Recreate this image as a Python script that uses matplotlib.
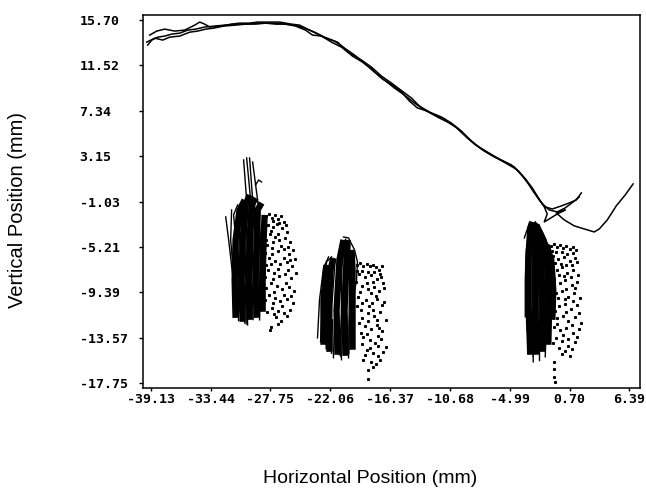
import matplotlib
matplotlib.use("Agg")
import matplotlib.pyplot as plt

# tick values / labels
x_ticks = [-39.13, -33.44, -27.75, -22.06, -16.37, -10.68, -4.99, 0.70, 6.39]
x_labels = ["-39.13", "-33.44", "-27.75", "-22.06", "-16.37", "-10.68", "-4.99", "0.70", "6.39"]
y_ticks = [15.70, 11.52, 7.34, 3.15, -1.03, -5.21, -9.39, -13.57, -17.75]
y_labels = ["15.70", "11.52", "7.34", "3.15", "-1.03", "-5.21", "-9.39", "-13.57", "-17.75"]

# upper trajectory, three overlapping traces
trace_a_x = [-39.42, -39.03, -38.47, -37.80, -37.14, -36.37, -35.61, -34.86, -34.00, -33.05, -32.10,
             -31.15, -30.20, -29.25, -28.30, -27.35, -26.40, -25.45, -24.50, -23.55, -22.60, -21.65,
             -20.70, -19.75, -18.80, -17.85, -16.90, -15.95, -15.00, -14.05, -13.10, -12.15, -11.20,
             -10.25, -9.30, -8.35, -7.40, -6.45, -5.50, -4.55, -3.79, -3.13, -2.46, -1.89, -1.23,
             -0.47, 0.29, 1.05, 1.63]
trace_a_y = [13.40, 13.86, 14.13, 14.23, 14.41, 14.50, 14.78, 14.87, 15.06, 15.15, 15.24,
             15.33, 15.33, 15.42, 15.42, 15.42, 15.33, 15.24, 14.96, 14.59, 14.13, 13.77,
             13.12, 12.48, 11.74, 10.91, 10.17, 9.44, 8.79, 8.06, 7.41, 6.95, 6.58,
             5.94, 5.11, 4.28, 3.63, 3.08, 2.62, 2.16, 1.33, 0.50, -0.42, -1.25, -1.80,
             -1.98, -1.61, -1.06, -0.60]

trace_b_x = [-39.23, -38.56, -37.80, -36.85, -35.90, -34.95, -34.47, -34.00, -33.52, -32.39, -31.44,
             -30.68, -29.73, -28.97, -28.02, -26.88, -25.74, -24.98, -24.02, -23.27, -22.51, -21.37,
             -20.23, -19.09, -18.14, -17.19, -16.24, -15.10, -14.34, -13.58, -12.63, -11.49, -10.54,
             -9.59, -8.64, -7.69, -6.74, -5.79, -4.83, -4.08, -3.41, -2.84, -2.18, -1.61, -0.94,
             -0.08, 0.68, 1.34, 1.82]
trace_b_y = [14.32, 14.69, 14.87, 14.69, 14.78, 15.24, 15.52, 15.33, 15.06, 15.15, 15.33,
             15.42, 15.42, 15.52, 15.52, 15.52, 15.33, 15.24, 14.78, 14.41, 14.04, 13.67,
             12.66, 12.02, 11.37, 10.54, 9.90, 9.07, 8.52, 7.78, 7.23, 6.77, 6.21,
             5.48, 4.56, 3.82, 3.27, 2.81, 2.35, 1.70, 0.96, 0.04, -0.88, -1.52, -1.71,
             -1.43, -1.15, -0.88, -0.23]

trace_c_x = [-39.51, -38.75, -37.99, -37.33, -36.37, -35.42, -34.67, -33.91, -33.15, -32.20, -31.06,
             -30.11, -29.16, -28.21, -27.26, -26.31, -25.36, -24.41, -23.74, -22.89, -21.94, -20.99,
             -19.94, -18.99, -18.04, -17.09, -16.14, -15.29, -14.53, -13.77, -12.82, -11.87, -10.92,
             -9.97, -9.02, -8.07, -7.12, -6.17, -5.22, -4.26, -3.51, -2.84, -2.27, -1.70, -1.42,
             -1.70, -1.23, -0.47, 0.29, -0.56, 0.20, 1.15, 2.10, 3.05, 3.53, 4.29, 5.14, 5.99, 6.75]
trace_c_y = [13.67, 14.04, 13.86, 14.13, 14.23, 14.59, 14.69, 14.87, 14.96, 15.15, 15.24,
             15.33, 15.33, 15.42, 15.33, 15.33, 15.15, 14.78, 14.32, 14.23, 13.67, 13.21,
             12.38, 11.83, 11.10, 10.27, 9.71, 9.07, 8.24, 7.60, 7.32, 6.77, 6.31,
             5.75, 4.83, 4.10, 3.54, 2.99, 2.44, 1.89, 1.06, 0.23, -0.69, -1.52, -2.17,
             -2.90, -2.63, -2.17, -1.80, -2.08, -2.72, -3.27, -3.55, -3.83, -3.55, -2.72, -1.43, -0.42, 0.60]

# lower strokes: dense cores (drawn thick) and single strands
cluster1_core = [
    ([-31.06, -31.15, -31.06, -30.68, -30.20], [-11.75, -8.25, -4.56, -1.80, -0.88]),
    ([-30.39, -30.49, -30.39, -30.11, -29.73], [-12.11, -8.25, -4.56, -1.34, -0.42]),
    ([-29.73, -29.82, -29.73, -29.54, -29.16], [-11.93, -8.25, -4.56, -1.34, -0.69]),
    ([-29.06, -29.16, -29.06, -28.97, -28.59], [-11.75, -8.25, -4.56, -1.80, -1.15]),
    ([-28.49, -28.49, -28.40, -28.30], [-11.19, -8.25, -4.56, -2.26]),
]
cluster1_thin = [
    ([-30.30, -30.01, -29.73, -29.73], [2.81, -0.88, -4.56, -10.09]),
    ([-29.73, -29.44, -29.16, -29.25], [2.99, -0.88, -4.56, -10.09]),
    ([-29.44, -28.97, -28.68, -28.78], [2.62, -0.88, -4.56, -10.09]),
    ([-30.01, -29.63, -29.44], [2.99, -0.88, -4.56]),
    ([-29.16, -28.87, -28.59], [0.50, 0.96, 0.78]),
    ([-32.00, -31.72, -31.34, -30.87, -30.49], [-2.44, -4.56, -7.79, -10.09, -11.75]),
    ([-31.44, -31.53, -31.25, -30.87], [-1.80, -4.56, -7.79, -11.01]),
    ([-30.87, -31.25, -30.96, -30.68, -30.20], [-1.34, -2.26, -5.48, -9.17, -12.21]),
    ([-28.78, -28.59, -28.21], [-11.93, -5.48, -2.72]),
    ([-29.92, -30.01], [-12.39, -9.17]),
    ([-30.78, -30.82, -30.70, -30.40], [-12.00, -8.00, -4.00, -1.20]),
    ([-30.05, -30.15, -30.05, -29.90], [-12.30, -8.50, -4.00, -0.80]),
    ([-29.40, -29.50, -29.40, -29.20], [-11.90, -8.00, -3.50, -0.90]),
    ([-28.80, -28.85, -28.75], [-11.60, -7.00, -2.00]),
]
cluster2_core = [
    ([-22.13, -22.22, -22.03, -21.75], [-14.88, -11.01, -7.33, -6.22]),
    ([-21.37, -21.46, -21.18, -20.80], [-15.15, -11.01, -6.40, -4.56]),
    ([-20.61, -20.70, -20.51, -20.42], [-15.25, -11.01, -6.40, -4.56]),
    ([-19.94, -19.94, -19.94, -20.04], [-14.69, -11.01, -7.33, -5.48]),
    ([-22.70, -22.70, -22.41], [-14.23, -10.09, -6.86]),
]
cluster2_thin = [
    ([-23.27, -23.08, -22.70, -22.22], [-13.59, -10.09, -7.14, -6.13]),
    ([-22.98, -22.79, -22.41, -21.94], [-13.95, -10.09, -6.59, -6.13]),
    ([-21.75, -21.84], [-15.43, -11.93]),
    ([-20.99, -21.08], [-15.61, -12.85]),
    ([-20.32, -20.23, -19.56, -19.47, -19.75, -20.32, -20.80], [-15.43, -11.93, -8.25, -6.59, -5.48, -4.38, -4.29]),
    ([-21.18, -20.89, -20.61], [-15.15, -10.09, -5.48]),
    ([-21.95, -21.90, -21.60], [-15.00, -10.50, -6.50]),
    ([-21.05, -21.00, -20.95, -20.60], [-15.30, -11.00, -7.00, -4.50]),
    ([-20.30, -20.25, -20.20], [-15.00, -10.00, -5.00]),
    ([-22.45, -22.40, -22.10], [-14.60, -10.50, -6.60]),
]
cluster3_core = [
    ([-3.03, -3.22, -3.22, -3.03, -2.84], [-15.15, -10.09, -6.40, -3.46, -2.90]),
    ([-2.46, -2.56, -2.56, -2.56, -2.75], [-15.15, -10.09, -6.40, -4.11, -3.00]),
    ([-1.89, -1.89, -1.99, -2.18, -2.65], [-14.88, -10.09, -6.40, -4.38, -3.09]),
    ([-1.32, -1.23, -1.42, -1.80, -2.46], [-14.23, -10.09, -6.40, -4.56, -3.18]),
    ([-0.94, -0.85, -1.04, -1.51], [-11.93, -9.17, -6.40, -5.02]),
]
cluster3_thin = [
    ([-3.51, -3.51, -3.41, -3.22], [-11.65, -8.25, -5.48, -4.29]),
    ([-3.60, -3.41, -3.13], [-4.38, -3.83, -3.09]),
    ([-2.75, -2.84], [-15.80, -11.93]),
    ([-2.18, -2.18], [-15.61, -11.93]),
    ([-1.61, -1.51], [-15.33, -11.93]),
    ([-0.66, -0.75, -1.13, -1.89, -2.56], [-10.09, -7.33, -5.48, -3.83, -2.90]),
    ([-3.32, -3.22], [-12.85, -9.17]),
    ([-2.75, -2.88, -2.88, -2.70], [-15.30, -10.00, -5.50, -3.00]),
    ([-2.18, -2.22, -2.25, -2.40], [-15.00, -10.00, -5.50, -3.30]),
    ([-1.60, -1.56, -1.70, -2.10], [-14.60, -10.00, -5.50, -3.60]),
]

# dotted clouds to the right of each stroke group
dots1_x = [-28.2, -27.9, -27.6, -27.3, -27.0, -26.7, -26.5, -28.0, -27.5, -27.1, -26.6, -26.2, -27.8,
           -27.3, -26.9, -26.4, -25.9, -28.1, -27.6, -27.0, -26.5, -26.0, -25.6, -27.9, -27.3, -26.8,
           -26.2, -25.7, -25.4, -28.0, -27.4, -26.9, -26.4, -25.8, -25.3, -27.7, -27.1, -26.6, -26.0,
           -25.5, -27.9, -27.3, -26.8, -26.2, -25.6, -27.6, -27.0, -26.5, -25.9, -27.2, -26.7, -27.7, -27.8,
           -28.3, -28.2, -28.3, -28.2, -28.3, -28.2, -28.3, -28.1, -27.5, -26.9, -27.7, -27.0, -26.3,
           -27.5, -26.7, -26.1, -27.6, -26.5, -25.9, -27.7, -27.0, -26.1, -27.5, -26.3, -27.4, -26.5,
           -25.8, -27.5, -26.6, -26.2, -27.4, -27.0]
dots1_y = [-2.4, -2.2, -2.5, -2.3, -2.6, -2.4, -2.9, -3.2, -3.4, -3.1, -3.5, -3.8, -4.0,
           -4.3, -4.6, -4.4, -4.8, -5.0, -5.3, -5.6, -5.4, -5.9, -5.5, -6.2, -6.5, -6.8,
           -6.6, -7.0, -6.3, -7.3, -7.6, -7.9, -7.7, -8.1, -7.6, -8.5, -8.8, -9.1, -8.9,
           -9.3, -9.6, -9.9, -10.2, -10.0, -10.4, -10.8, -11.1, -11.3, -11.0, -11.7, -12.0, -12.6, -12.9,
           -3.7, -4.6, -5.8, -6.9, -8.0, -9.0, -10.1, -11.2, -2.8, -3.0, -3.7, -4.0, -3.2,
           -4.8, -5.1, -5.2, -5.9, -6.2, -6.4, -6.8, -7.2, -7.3, -8.2, -8.5, -9.4, -9.6,
           -9.7, -10.4, -10.7, -11.6, -11.4, -12.3]

dots2_x = [-19.5, -19.2, -18.9, -18.6, -18.3, -18.0, -17.7, -17.4, -17.1, -19.3, -18.8, -18.2, -17.6,
           -17.2, -19.0, -18.5, -17.9, -17.4, -16.9, -19.4, -18.7, -18.1, -17.6, -17.1, -19.1, -18.5,
           -17.9, -17.3, -16.8, -19.3, -18.8, -18.2, -17.6, -17.1, -18.9, -18.3, -17.8, -17.2, -16.8,
           -18.6, -18.0, -17.5, -17.0, -18.2, -17.7, -18.9, -18.5, -18.5,
           -19.5, -19.0, -18.5, -17.9, -17.3, -19.6, -18.6, -18.0, -17.0, -19.2, -18.2, -17.7, -19.0,
           -18.4, -16.9, -19.5, -18.0, -17.6, -19.0, -18.5, -17.4, -19.1, -18.6, -17.5, -19.0, -17.5,
           -18.3, -18.8, -17.3, -18.0]
dots2_y = [-6.9, -6.7, -7.0, -6.8, -7.0, -6.9, -7.1, -7.3, -7.0, -7.7, -8.0, -7.8, -8.2,
           -8.0, -8.8, -9.1, -8.9, -9.3, -9.0, -9.8, -10.1, -10.4, -10.0, -10.6, -11.0, -11.3,
           -11.6, -11.2, -11.9, -12.2, -12.5, -12.8, -12.4, -13.0, -13.5, -13.8, -14.1, -13.7, -14.4,
           -14.7, -15.0, -15.3, -14.9, -15.8, -16.0, -15.6, -16.6, -17.4,
           -7.4, -7.4, -7.5, -7.5, -7.7, -8.4, -8.5, -8.4, -8.5, -9.4, -9.5, -9.7, -10.4,
           -10.7, -10.3, -10.7, -11.0, -11.9, -11.8, -12.0, -12.7, -13.1, -13.2, -13.4, -14.2, -14.3,
           -14.5, -15.2, -15.6, -16.3]

dots3_x = [-1.1, -0.8, -0.5, -0.2, 0.1, 0.4, 0.7, 1.0, 1.3, -0.9, -0.4, 0.2, 0.7, 1.2, -1.0, -0.5,
           0.0, 0.5, 1.0, 1.5, -0.8, -0.2, 0.3, 0.9, 1.4, -1.1, -0.6, 0.0, 0.6, 1.1, 1.7, -0.9,
           -0.3, 0.3, 0.8, 1.4, -1.0, -0.5, 0.1, 0.6, 1.2, 1.8, -0.8, -0.2, 0.4, 1.0, 1.6, -0.6,
           0.0, 0.6, 1.2, -0.3, 0.3, 0.9, -0.75, -0.75, -0.75, -0.7,
           -1.0, -0.6, 0.0, 0.5, 1.0, 1.4, -0.7, -0.1, 0.4, 0.9, -0.3, 0.2, 0.8, 1.2, 0.4,
           -0.9, -0.4, 0.3, 1.0, -0.7, 0.4, 1.6, -0.5, 0.9, 0.1, 1.4, -0.9, 0.6, 0.0, 0.7]
dots3_y = [-5.1, -4.9, -5.2, -5.0, -5.3, -5.1, -5.4, -5.2, -5.5, -6.0, -6.3, -6.1, -6.5, -6.2, -7.0, -7.3,
           -7.1, -7.6, -7.3, -7.8, -8.2, -8.5, -8.3, -8.7, -8.4, -9.2, -9.5, -9.3, -9.8, -9.5, -9.9, -10.4,
           -10.7, -10.5, -10.9, -10.6, -11.5, -11.8, -11.6, -12.0, -11.7, -12.2, -12.6, -12.9, -12.7, -13.1, -12.8, -13.6,
           -13.9, -13.7, -14.0, -14.5, -14.8, -14.6, -15.8, -16.5, -17.2, -17.7,
           -5.6, -5.7, -5.7, -5.9, -5.8, -6.6, -6.7, -6.8, -6.9, -6.9, -7.8, -7.9, -8.0, -9.0, -9.1,
           -8.8, -9.9, -10.0, -10.2, -11.1, -11.2, -11.3, -12.3, -12.4, -13.3, -13.5, -14.1, -14.3, -15.1, -15.3]


def main():
    fig = plt.figure(figsize=(6.46, 4.88), dpi=100)
    ax = fig.add_axes([0.221, 0.205, 0.770, 0.764])

    for tx, ty in [(trace_a_x, trace_a_y), (trace_b_x, trace_b_y), (trace_c_x, trace_c_y)]:
        ax.plot(tx, ty, color="black", linewidth=1.1)

    for core in (cluster1_core, cluster2_core, cluster3_core):
        for sx, sy in core:
            ax.plot(sx, sy, color="black", linewidth=4.6, solid_capstyle="butt")
    for thin in (cluster1_thin, cluster2_thin, cluster3_thin):
        for sx, sy in thin:
            ax.plot(sx, sy, color="black", linewidth=1.0)

    for dx, dy in [(dots1_x, dots1_y), (dots2_x, dots2_y), (dots3_x, dots3_y)]:
        ax.plot(dx, dy, linestyle="none", marker="s", markersize=1.2, color="black")

    ax.set_xlim(-39.89, 7.42)
    ax.set_ylim(-18.21, 16.16)
    ax.set_xticks(x_ticks)
    ax.set_xticklabels(x_labels)
    ax.set_yticks(y_ticks)
    ax.set_yticklabels(y_labels)

    tick_font = dict(family="DejaVu Sans Mono", weight="bold", size=9.5)
    for t in ax.get_xticklabels() + ax.get_yticklabels():
        t.set_fontproperties(matplotlib.font_manager.FontProperties(**tick_font))
    for t in ax.get_yticklabels():
        t.set_ha("left")
    ax.tick_params(axis="y", direction="out", length=3, width=1, pad=42.5)
    ax.tick_params(axis="x", direction="out", length=2, width=1, pad=1.5)

    for s in ax.spines.values():
        s.set_linewidth(1.1)

    fig.text(0.027, 0.570, "Vertical Position (mm)", rotation=90, ha="center", va="center",
             family="Liberation Sans", fontsize=14.5)
    fig.text(0.573, 0.019, "Horizontal Position (mm)", ha="center", va="center",
             family="Liberation Sans", fontsize=14)

    fig.savefig("out.png", dpi=100)
    plt.close(fig)


if __name__ == "__main__":
    main()
